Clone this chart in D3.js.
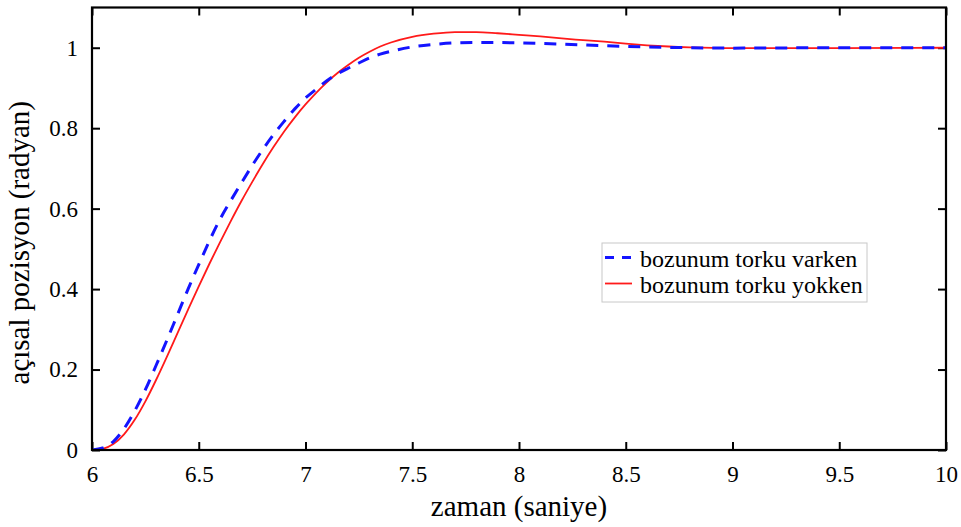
<!DOCTYPE html>
<html>
<head>
<meta charset="utf-8">
<script src="https://cdn.jsdelivr.net/npm/d3@7/dist/d3.min.js"></script>
<style>
  html, body { margin: 0; padding: 0; background: #fff; }
</style>
</head>
<body>
<svg id="chart" width="961" height="527"></svg>
<script>
// ---- data ----
const timeBlue = [6.0, 6.05, 6.1, 6.15, 6.2, 6.25, 6.3, 6.35, 6.4, 6.45, 6.5, 6.55, 6.6, 6.65, 6.7, 6.75, 6.8, 6.85, 6.9, 6.95, 7.0, 7.05, 7.1, 7.15, 7.2, 7.25, 7.3, 7.35, 7.4, 7.5, 7.6, 7.7, 7.8, 7.9, 8.0, 8.2, 8.4, 8.6, 8.8, 9.0, 9.5, 10.0];
const valuesBlue = [0, 0.005, 0.021, 0.053, 0.097, 0.150, 0.210, 0.272, 0.336, 0.400, 0.461, 0.520, 0.574, 0.620, 0.664, 0.707, 0.747, 0.784, 0.817, 0.848, 0.875, 0.897, 0.918, 0.935, 0.949, 0.962, 0.975, 0.984, 0.991, 1.002, 1.008, 1.012, 1.013, 1.013, 1.012, 1.009, 1.005, 1.002, 1.000, 0.999, 1.0, 1.0];

const timeRed = [6.0, 6.05, 6.1, 6.15, 6.2, 6.25, 6.3, 6.35, 6.4, 6.45, 6.5, 6.55, 6.6, 6.65, 6.7, 6.75, 6.8, 6.85, 6.9, 6.95, 7.0, 7.05, 7.1, 7.15, 7.2, 7.25, 7.3, 7.35, 7.4, 7.5, 7.6, 7.7, 7.8, 7.9, 8.0, 8.1, 8.2, 8.3, 8.4, 8.5, 8.6, 8.7, 8.8, 9.0, 9.5, 10.0];
const valuesRed = [0, 0.003, 0.015, 0.039, 0.075, 0.121, 0.174, 0.231, 0.290, 0.349, 0.407, 0.463, 0.517, 0.569, 0.619, 0.666, 0.711, 0.753, 0.792, 0.827, 0.859, 0.888, 0.914, 0.937, 0.957, 0.975, 0.990, 1.003, 1.013, 1.027, 1.035, 1.039, 1.039, 1.036, 1.032, 1.028, 1.023, 1.019, 1.015, 1.010, 1.006, 1.003, 1.001, 0.999, 0.999, 1.0];

const xTicks = [6, 6.5, 7, 7.5, 8, 8.5, 9, 9.5, 10];
const xTickLabels = ["6", "6.5", "7", "7.5", "8", "8.5", "9", "9.5", "10"];
const yTicks = [0, 0.2, 0.4, 0.6, 0.8, 1];
const yTickLabels = ["0", "0.2", "0.4", "0.6", "0.8", "1"];

const seriesNames = ["bozunum torku varken", "bozunum torku yokken"];
const xTitle = "zaman (saniye)";
const yTitle = "açısal pozisyon (radyan)";

// ---- layout ----
const FONT = "'Liberation Serif', 'Times New Roman', serif";
const pLeft = 92, pRight = 946, pTop = 7.5, pBottom = 450;
const svg = d3.select("#chart");

const x = d3.scaleLinear().domain([6, 10]).range([pLeft, pRight]);
const y = d3.scaleLinear().domain([0, 1.1]).range([pBottom, pTop]);

const tickLen = 8;

const gB = svg.append("g").attr("transform", `translate(0,${pBottom})`)
  .call(d3.axisBottom(x).tickValues(xTicks).tickFormat((d, i) => xTickLabels[i]).tickSizeInner(-tickLen).tickSizeOuter(0).tickPadding(16));
const gT = svg.append("g").attr("transform", `translate(0,${pTop})`)
  .call(d3.axisTop(x).tickValues(xTicks).tickFormat("").tickSizeInner(-tickLen).tickSizeOuter(0));
const gL = svg.append("g").attr("transform", `translate(${pLeft},0)`)
  .call(d3.axisLeft(y).tickValues(yTicks).tickFormat((d, i) => yTickLabels[i]).tickSizeInner(-tickLen).tickSizeOuter(0).tickPadding(14));
const gR = svg.append("g").attr("transform", `translate(${pRight},0)`)
  .call(d3.axisRight(y).tickValues(yTicks).tickFormat("").tickSizeInner(-tickLen).tickSizeOuter(0));

[gB, gT, gL, gR].forEach(g => {
  g.attr("font-family", null).attr("font-size", null);
  g.select(".domain").remove();
  g.selectAll(".tick line").attr("stroke", "#000").attr("stroke-width", 2);
  g.selectAll(".tick text").style("font-family", FONT).style("font-size", "23px").attr("fill", "#000");
});
gB.selectAll(".tick text").attr("dy", "0.71em");

svg.append("clipPath").attr("id", "clip").append("rect")
  .attr("x", pLeft).attr("y", pTop).attr("width", pRight - pLeft).attr("height", pBottom - pTop);

const line = d3.line().x(d => x(d[0])).y(d => y(d[1])).curve(d3.curveMonotoneX);

const redData = timeRed.map((t, i) => [t, valuesRed[i]]);
const blueData = timeBlue.map((t, i) => [t, valuesBlue[i]]);

svg.append("path").datum(redData).attr("clip-path", "url(#clip)")
  .attr("d", line).attr("fill", "none").attr("stroke", "#ff1a1a").attr("stroke-width", 1.8);
svg.append("path").datum(blueData).attr("clip-path", "url(#clip)")
  .attr("d", line).attr("fill", "none").attr("stroke", "#1414ff").attr("stroke-width", 3)
  .attr("stroke-dasharray", "12,9");

svg.append("rect").attr("x", pLeft).attr("y", pTop).attr("width", pRight - pLeft).attr("height", pBottom - pTop)
  .attr("fill", "none").attr("stroke", "#000").attr("stroke-width", 2.2);

svg.append("text").attr("x", (pLeft + pRight) / 2).attr("y", 516).attr("text-anchor", "middle")
  .style("font-family", FONT).style("font-size", "29px").text(xTitle);
svg.append("text").attr("transform", `translate(29,${(pTop + pBottom) / 2 + 14}) rotate(-90)`).attr("text-anchor", "middle")
  .style("font-family", FONT).style("font-size", "29px").text(yTitle);

const lg = svg.append("g");
lg.append("rect").attr("x", 602).attr("y", 243).attr("width", 265).attr("height", 59)
  .attr("fill", "#fff").attr("stroke", "#c8c8c8").attr("stroke-width", 1);
const legendRows = [
  { name: seriesNames[0], color: "#1414ff", dash: "9,8", width: 3, cy: 257.5 },
  { name: seriesNames[1], color: "#ff1a1a", dash: null, width: 1.8, cy: 283.5 }
];
legendRows.forEach(r => {
  lg.append("line").attr("x1", 605).attr("x2", 632).attr("y1", r.cy).attr("y2", r.cy)
    .attr("stroke", r.color).attr("stroke-width", r.width).attr("stroke-dasharray", r.dash);
  lg.append("text").attr("x", 640).attr("y", r.cy + 9)
    .style("font-family", FONT).style("font-size", "24px").text(r.name);
});
</script>
</body>
</html>
